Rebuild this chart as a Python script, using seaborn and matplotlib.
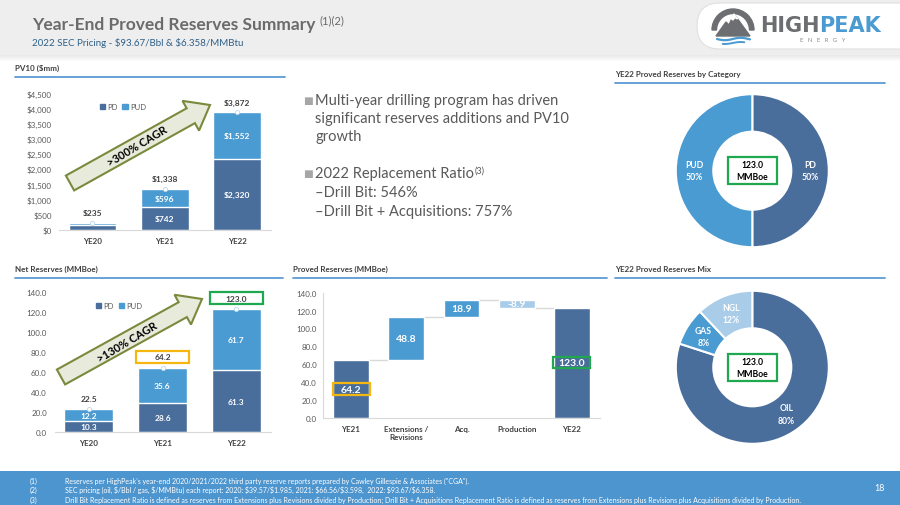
import numpy as np
import matplotlib
matplotlib.use("Agg")
import matplotlib.pyplot as plt
import matplotlib.patches as mpatches
from matplotlib.ticker import FuncFormatter
import seaborn as sns

# ---- data ----
years = ["YE20", "YE21", "YE22"]
pv10_pd = [150, 742, 2320]
pv10_pud = [85, 596, 1552]
pv10_total = [235, 1338, 3872]

net_pd = [10.3, 28.6, 61.3]
net_pud = [12.2, 35.6, 61.7]
net_total = [22.5, 64.2, 123.0]

wf_labels = ["YE21", "Extensions /\nRevisions", "Acq.", "Production", "YE22"]
wf_values = [64.2, 48.8, 18.9, -8.9, 123.0]

cat_labels = ["PD", "PUD"]
cat_share = [50, 50]
mix_labels = ["OIL", "GAS", "NGL"]
mix_share = [80, 8, 12]
total_mmboe = 123.0

# ---- style ----
DARK = "#4a6e9c"
MID = "#4b9bd3"
LIGHT = "#a9cce9"
LINE = "#5b9bd5"
TXT = "#595959"
HEAD = "#404040"
YELLOW = "#f5b70f"
GREEN = "#1fa84f"

sns.set_style("white")
plt.rcParams['font.family'] = ['Lato', 'DejaVu Sans']
plt.rcParams['text.parse_math'] = False

W, H = 900, 506
fig = plt.figure(figsize=(9, 5.06), dpi=100)


def px_rect(x0, y0, x1, y1):
    return [x0 / W, 1 - y1 / H, (x1 - x0) / W, (y1 - y0) / H]


# background layer (bands, headings, bullets, logo)
bg = fig.add_axes([0, 0, 1, 1], zorder=-1)
bg.set_xlim(0, W)
bg.set_ylim(H, 0)
bg.axis('off')
bg.add_patch(mpatches.Rectangle((0, 0), W, 56, color='#eeeeee', lw=0))
for i in range(6):
    bg.add_patch(mpatches.Rectangle((0, 56 + i), W, 1, color='#cfcfcf', alpha=0.45 * (1 - i / 6), lw=0))
bg.add_patch(mpatches.Rectangle((0, 472), W, 34, color='#4d95cf', lw=0))

tt = bg.text(32, 25, "Year-End Proved Reserves Summary", fontsize=12.5, fontweight='bold',
             color='#6b6b6b', va='center')
bg.annotate("(1)(2)", xy=(1, 1), xycoords=tt, xytext=(3, 1), textcoords='offset points',
            fontsize=8, color='#6b6b6b', va='top', ha='left')
bg.text(32, 43, "2022 SEC Pricing - $93.67/Bbl & $6.358/MMBtu", fontsize=7, color='#2e6089', va='center')

# logo
bg.add_patch(mpatches.FancyBboxPatch((697, 4), 240, 46, boxstyle="round,pad=0,rounding_size=23",
                                     fc='white', ec='#e0e0e0', lw=0.8))
bg.add_patch(mpatches.Wedge((733, 31), 21, 180, 360, width=4.5, color='#6d6e71'))
bg.add_patch(mpatches.Polygon([(716, 37), (726, 23), (729, 26), (734, 15), (750, 37)], color='#6d6e71'))
bg.add_patch(mpatches.Polygon([(731, 19.5), (734, 15), (737.5, 20), (735, 18.5), (733, 21)], color='white'))
wx = np.linspace(717, 750, 30)
bg.plot(wx, 40 + 1.2 * np.sin((wx - 717) / 5), color=MID, lw=1.6)
bg.plot(wx[5:-5], 44 + 1.0 * np.sin((wx[5:-5] - 717) / 5), color=MID, lw=1.4)
th = bg.text(760, 26, "HIGH", fontsize=15, fontweight='heavy', color='#6d6e71',
             family='DejaVu Sans', va='center')
bg.annotate("PEAK", xy=(1, 0.5), xycoords=th, fontsize=15, fontweight='heavy', color=MID,
            family='DejaVu Sans', va='center', ha='left')
bg.text(823, 40, "E   N   E   R   G   Y", fontsize=4.3, color='#8a8a8a', ha='center', va='center')

# section headers
for x0, x1, y, label in [(15, 285, 68, "PV10 ($mm)"),
                         (615, 885, 74, "YE22 Proved Reserves by Category"),
                         (15, 283, 269, "Net Reserves (MMBoe)"),
                         (293, 607, 269, "Proved Reserves (MMBoe)"),
                         (615, 885, 269, "YE22 Proved Reserves Mix")]:
    bg.text(x0, y, label, fontsize=5.8, fontweight='bold', color=HEAD, va='center')
    bg.plot([x0, x1], [y + 9.5, y + 9.5], color=LINE, lw=1.3)

# bullets
bullet_kw = dict(fontsize=10.5, color=TXT, va='center')
for y in (101, 174):
    bg.text(303, y, "■", fontsize=7.5, color='#a6a6a6', va='center')
bg.text(315, 101, "Multi-year drilling program has driven", **bullet_kw)
bg.text(315, 119, "significant reserves additions and PV10", **bullet_kw)
bg.text(315, 137, "growth", **bullet_kw)
tr = bg.text(315, 174, "2022 Replacement Ratio", **bullet_kw)
bg.annotate("(3)", xy=(1, 1), xycoords=tr, xytext=(0.5, 0), textcoords='offset points',
            fontsize=6.5, color=TXT, va='top', ha='left')
bg.text(315, 193, "–Drill Bit: 546%", **bullet_kw)
bg.text(315, 212, "–Drill Bit + Acquisitions: 757%", **bullet_kw)

# footnotes
notes = [
    "Reserves per HighPeak's year-end 2020/2021/2022 third party reserve reports prepared by Cawley Gillespie & Associates (\"CGA\").",
    "SEC pricing (oil, $/Bbl / gas, $/MMBtu) each report: 2020: $39.57/$1.985, 2021: $66.56/$3.598,  2022: $93.67/$6.358.",
    "Drill Bit Replacement Ratio is defined as reserves from Extensions plus Revisions divided by Production; Drill Bit + Acquisitions Replacement Ratio is defined as reserves from Extensions plus Revisions plus Acquisitions divided by Production.",
]
for k, (y, note) in enumerate(zip((481, 490, 500), notes)):
    bg.text(30, y, f"({k + 1})", fontsize=5, color='white', va='center')
    bg.text(65, y, note, fontsize=5, color='white', va='center')
bg.text(885, 489, "18", fontsize=6.5, color='white', va='center', ha='right')


def style_axes(ax, ymax, step, fmt, pad):
    ax.set_facecolor('none')
    ax.set_ylim(0, ymax)
    ax.set_yticks(np.arange(0, ymax + 1, step))
    ax.yaxis.set_major_formatter(FuncFormatter(fmt))
    ax.tick_params(axis='y', length=0, labelsize=5.8, labelcolor=TXT, pad=pad)
    ax.tick_params(axis='x', length=0, labelsize=5.8, labelcolor=HEAD, pad=5)
    for lab in ax.get_xticklabels():
        lab.set_fontweight('bold')
    for s in ('top', 'right', 'left'):
        ax.spines[s].set_visible(False)
    ax.spines['bottom'].set_color('#d9d9d9')
    ax.set_xlabel('')
    ax.set_ylabel('')


def stacked(ax, pd_vals, pud_vals, totals):
    sns.barplot(x=years, y=totals, color=MID, saturation=1, width=0.66, ax=ax)
    sns.barplot(x=years, y=pd_vals, color=DARK, saturation=1, width=0.66, ax=ax)
    ax.plot(range(len(years)), totals, 'o', ls='none', ms=3, mfc='white', mec='#bdd7ee', mew=0.6)
    ax.legend(handles=[mpatches.Patch(color=DARK, label='PD'), mpatches.Patch(color=MID, label='PUD')],
              ncol=2, frameon=False, fontsize=5.5, handlelength=0.7, handleheight=0.7,
              handletextpad=0.3, columnspacing=0.6, loc='center left', bbox_to_anchor=(0.16, 0.9),
              labelcolor=TXT)


# ---- PV10 ----
ax1 = fig.add_axes(px_rect(59, 94.3, 270.6, 230.7))
stacked(ax1, pv10_pd, pv10_pud, pv10_total)
style_axes(ax1, 4500, 500, lambda v, p: f"${v:,.0f}", 5)
for i, (p, u, t) in enumerate(zip(pv10_pd, pv10_pud, pv10_total)):
    if i > 0:
        ax1.text(i, p / 2, f"${p:,.0f}", ha='center', va='center', color='white', fontsize=6, fontweight='bold')
        ax1.text(i, p + u / 2, f"${u:,.0f}", ha='center', va='center', color='white', fontsize=6, fontweight='bold')
    ax1.text(i, t + 340, f"${t:,.0f}", ha='center', va='center', color=HEAD, fontsize=6, fontweight='bold')

# ---- Net reserves ----
ax2 = fig.add_axes(px_rect(54.5, 292.7, 270.5, 432.7))
stacked(ax2, net_pd, net_pud, net_total)
style_axes(ax2, 140, 20, lambda v, p: f"{v:.1f}", 5.5)
box_colors = [None, YELLOW, GREEN]
for i, (p, u, t) in enumerate(zip(net_pd, net_pud, net_total)):
    ax2.text(i, p / 2, f"{p:.1f}", ha='center', va='center', color='white', fontsize=6, fontweight='bold')
    ax2.text(i, p + u / 2, f"{u:.1f}", ha='center', va='center', color='white', fontsize=6, fontweight='bold')
    if box_colors[i]:
        ax2.add_patch(mpatches.Rectangle((i - 0.355, t + 4.5), 0.71, 12, fc='white', ec=box_colors[i],
                                         lw=1.6, clip_on=False, zorder=3))
    ax2.text(i, t + 10.5, f"{t:.1f}", ha='center', va='center', color=HEAD, fontsize=6,
             fontweight='bold', zorder=4, clip_on=False)

# ---- waterfall ----
ax3 = fig.add_axes(px_rect(323.4, 293.7, 599.6, 418.8))
bottoms, heights, colors, levels = [], [], [], []
running = wf_values[0]
for i, v in enumerate(wf_values):
    if i == 0 or i == len(wf_values) - 1:
        bottoms.append(0)
        heights.append(v)
        colors.append(DARK)
    elif v >= 0:
        bottoms.append(running)
        heights.append(v)
        colors.append(MID)
        running += v
    else:
        running += v
        bottoms.append(running)
        heights.append(-v)
        colors.append(LIGHT)
    levels.append(running if i > 0 else v)
xs = np.arange(len(wf_values))
ax3.bar(xs, heights, bottom=bottoms, width=0.65, color=colors, zorder=2)
for i in range(len(wf_values) - 1):
    ax3.plot([i + 0.325, i + 1 - 0.325], [levels[i], levels[i]], color='#d9d9d9', lw=1, zorder=1)
ax3.set_xticks(xs)
ax3.set_xticklabels(wf_labels)
ax3.set_xlim(-0.5, len(wf_values) - 0.5)
style_axes(ax3, 140, 20, lambda v, p: f"{v:.1f}", 4.5)
ax3.spines['left'].set_visible(True)
ax3.spines['left'].set_color('#d9d9d9')
wf_boxes = {0: YELLOW, len(wf_values) - 1: GREEN}
for i, (b, h, v) in enumerate(zip(bottoms, heights, wf_values)):
    mid = b + h / 2
    ax3.text(i, mid, f"{v:.1f}", ha='center', va='center', color='white', fontsize=7.5,
             fontweight='bold', zorder=4)
    if i in wf_boxes:
        ax3.add_patch(mpatches.Rectangle((i - 0.335, mid - 6.3), 0.67, 12.6, fc='none',
                                         ec=wf_boxes[i], lw=1.6, zorder=3))


# ---- donuts ----
def donut(rect, shares, labels, colors):
    ax = fig.add_axes(rect)
    wedges, texts = ax.pie(shares, labels=[f"{l}\n{s}%" for l, s in zip(labels, shares)],
                           colors=colors, startangle=90, counterclock=False, labeldistance=0.755,
                           wedgeprops=dict(width=0.49, edgecolor='white', linewidth=1.5),
                           textprops=dict(color='white', fontsize=6.2, fontweight='bold'))
    for t in texts:
        t.set_ha('center')
        t.set_va('center')
        t.set_linespacing(1.5)
    ax.set_xlim(-1, 1)
    ax.set_ylim(-1, 1)
    ax.add_patch(mpatches.Rectangle((-0.32, -0.18), 0.64, 0.36, fc='white', ec=GREEN, lw=1.6))
    ax.text(0, 0, f"{total_mmboe:.1f}\nMMBoe", ha='center', va='center', fontsize=6.2,
            fontweight='bold', color='black', linespacing=1.4)
    return ax


donut(px_rect(675.8, 95.2, 828.8, 248.2), cat_share, cat_labels, [DARK, MID])
donut(px_rect(675.8, 291.8, 828.8, 444.8), mix_share, mix_labels, [DARK, MID, LIGHT])

# ---- CAGR arrows on top ----
ov = fig.add_axes([0, 0, 1, 1], zorder=5)
ov.set_xlim(0, W)
ov.set_ylim(H, 0)
ov.axis('off')
ov.set_facecolor('none')
for (x0, y0, x1, y1), label, (tx, ty) in [((70, 184, 210, 106), ">300% CAGR", (137, 147)),
                                         ((61, 378, 202, 300), ">130% CAGR", (127, 343))]:
    ov.add_patch(mpatches.FancyArrow(x0, y0, x1 - x0, y1 - y0, width=17, head_width=34, head_length=22,
                                     length_includes_head=True, fc='#e8ebdb', ec='#7a8a3c', lw=1.5))
    ov.text(tx, ty, label, rotation=31, rotation_mode='anchor', ha='center', va='center',
            fontsize=8, fontweight='bold', color='black')

fig.savefig("out.png", dpi=100)
